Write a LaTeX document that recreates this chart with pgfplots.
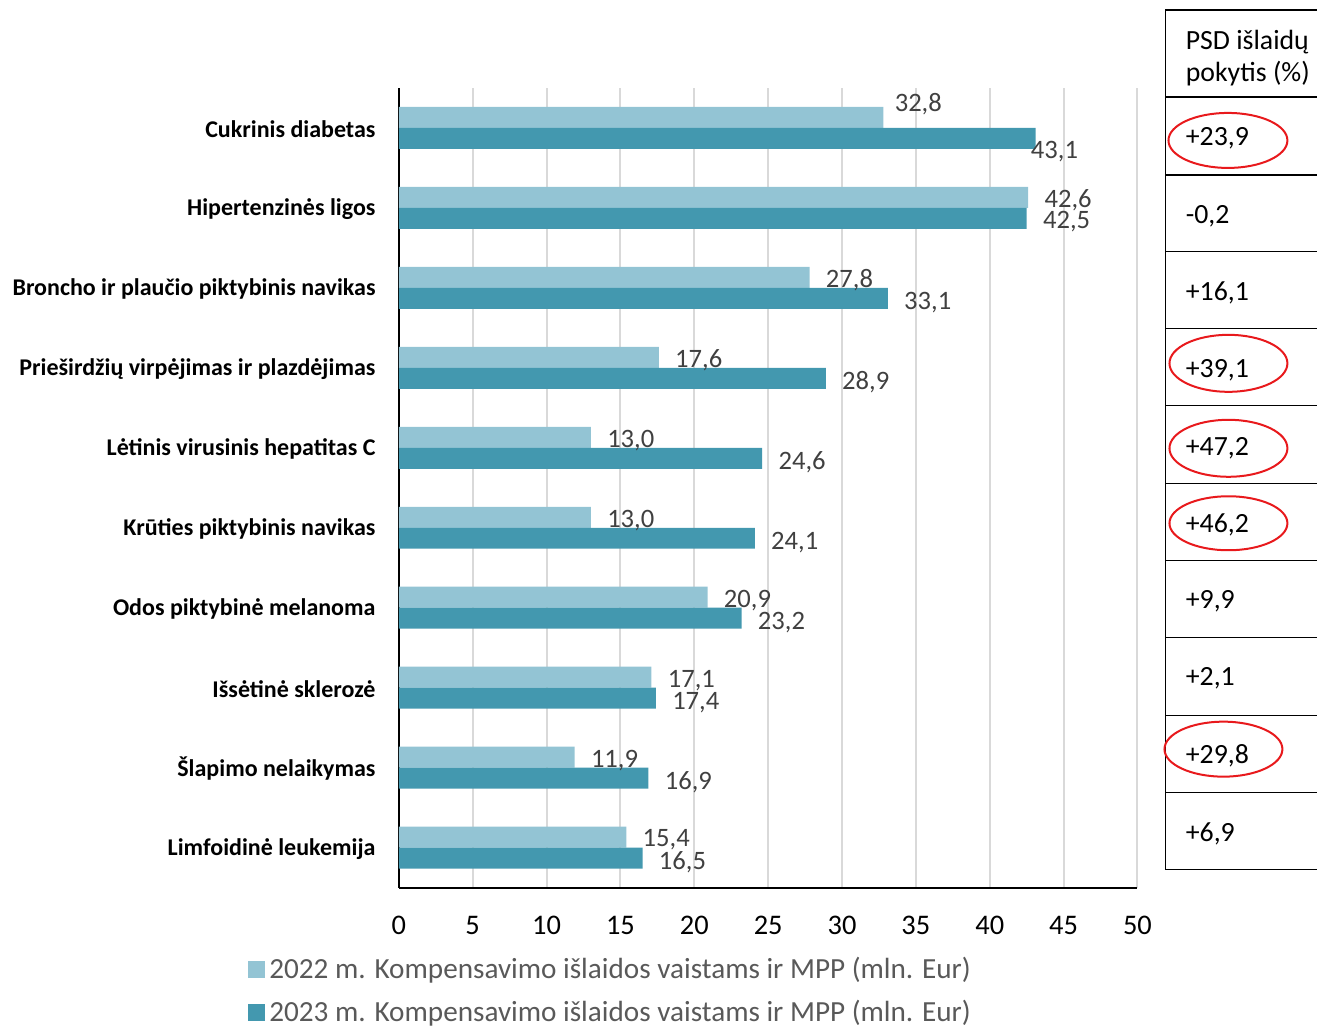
\documentclass[border=0pt]{standalone}
\usepackage{pgfplots}
\pgfplotsset{compat=1.18}
\usepackage{pgfplotstable}
\usepackage{fontspec}
\setmainfont{Carlito}
\definecolor{c22}{HTML}{93C4D4}
\definecolor{c23}{HTML}{4398AF}
\definecolor{lbl}{HTML}{404040}
\definecolor{leg}{HTML}{595959}
\definecolor{grd}{HTML}{D9D9D9}
\definecolor{ered}{HTML}{E8191C}
\pgfplotstableread{
y v22 dx22 dy22 v23 dx23 dy23
10 32.8 -2.5 6.5 43.1 -10.5 -6.5
9 42.6 0 -1.5 42.5 0 -1.5
8 27.8 0 -1.5 33.1 0 -2
7 17.6 0 -1.5 28.9 0 -2
6 13.0 0 -1.5 24.6 0 -2
5 13.0 0 -1.5 24.1 0 -2
4 20.9 0 -1.5 23.2 0 -2
3 17.1 0 -1.5 17.4 0 -2
2 11.9 0 -1.5 16.9 0 -2
1 15.4 0 -1.5 16.5 0 -2
}\datatable
\newcommand{\tabfont}{\fontsize{13.9}{16}\selectfont}
\begin{document}
\begin{tikzpicture}
\begin{scope}[x=0.5pt,y=-0.5pt]
\path (0,0) rectangle (1318,1025);
\draw[line width=0.6pt, black] (1166,10) -- (1166,870);
\foreach \yy in {10,97,175,252,329,406,484,561,638,716,793,870}
  \draw[line width=0.6pt, black] (1166,\yy) -- (1318,\yy);
\node[anchor=west, inner sep=0pt, font=\tabfont] at (1186,42) {PSD išlaidų};
\node[anchor=west, inner sep=0pt, font=\tabfont] at (1186,74) {pokytis (\%)};
\foreach \v/\yy in {+23{,}9/138,-0{,}2/216,+16{,}1/293,+39{,}1/370,+47{,}2/448,+46{,}2/525,+9{,}9/602,+2{,}1/679,+29{,}8/756,+6{,}9/834}
  \node[anchor=west, inner sep=0pt, font=\tabfont] at (1186,\yy) {\v};
\draw[ered, line width=1pt] (1228.5,140.5) ellipse [x radius=59.5, y radius=27.5];
\draw[ered, line width=1pt] (1229,363.5) ellipse [x radius=59, y radius=28.5];
\draw[ered, line width=1pt] (1229,448.5) ellipse [x radius=59, y radius=28.5];
\draw[ered, line width=1pt] (1229,523.5) ellipse [x radius=59, y radius=27];
\draw[ered, line width=1pt] (1224,749.5) ellipse [x radius=59, y radius=27.5];
\end{scope}
\begin{axis}[
  at={(199.5pt,-444pt)}, anchor=south west,
  scale only axis, width=369.5pt, height=400pt,
  xmin=0, xmax=50, ymin=0.5, ymax=10.5,
  xbar, bar width=10.5pt,
  axis x line*=bottom, axis y line*=left,
  axis line style={line width=1pt, black, -},
  xmajorgrids, grid style={grd, line width=1pt},
  major tick length=0pt,
  xtick={0,5,...,50},
  ytick={1,...,10},
  yticklabels={Limfoidinė leukemija, Šlapimo nelaikymas, Išsėtinė sklerozė, Odos piktybinė melanoma, Krūties piktybinis navikas, Lėtinis virusinis hepatitas C, Prieširdžių virpėjimas ir plazdėjimas, Broncho ir plaučio piktybinis navikas, Hipertenzinės ligos, Cukrinis diabetas},
  yticklabel style={font=\bfseries\fontsize{12}{14}\selectfont, inner sep=0pt, xshift=-11.5pt, yshift=-0.5pt, text=black},
  xticklabel style={font=\fontsize{14.2}{16}\selectfont, inner sep=0pt, yshift=-14pt, text=black},
  /pgf/number format/assume math mode=true,
  point meta=x,
  nodes near coords={\pgfmathprintnumber[fixed,fixed zerofill,precision=1,use comma,assume math mode=true]{\pgfplotspointmeta}},
  legend style={at={(-0.2043,-0.0815)}, anchor=north west, draw=none, fill=none, inner sep=0pt,
    font=\fontsize{14.6}{17}\selectfont, text=leg, cells={anchor=west}, row sep=5.5pt},
  legend image code/.code={\fill[#1] (0pt,-4.25pt) rectangle (8.5pt,4.25pt);},
  clip=false,
]
\addplot[fill=c22, draw=none, bar shift=5.25pt,
  visualization depends on={\thisrow{dx22}\as\dxx},
  visualization depends on={\thisrow{dy22}\as\dyy},
  nodes near coords style={anchor=west, inner sep=0pt, text=lbl, font=\fontsize{13.3}{15}\selectfont, xshift={(8+\dxx)*1pt}, yshift={\dyy*1pt}}]
  table[x=v22, y=y] {\datatable};
\addlegendentry{2022 m. Kompensavimo išlaidos vaistams ir MPP (mln. Eur)}
\addplot[fill=c23, draw=none, bar shift=-5.25pt,
  visualization depends on={\thisrow{dx23}\as\dxx},
  visualization depends on={\thisrow{dy23}\as\dyy},
  nodes near coords style={anchor=west, inner sep=0pt, text=lbl, font=\fontsize{13.3}{15}\selectfont, xshift={(8+\dxx)*1pt}, yshift={\dyy*1pt}}]
  table[x=v23, y=y] {\datatable};
\addlegendentry{2023 m. Kompensavimo išlaidos vaistams ir MPP (mln. Eur)}
\end{axis}
\end{tikzpicture}
\end{document}
